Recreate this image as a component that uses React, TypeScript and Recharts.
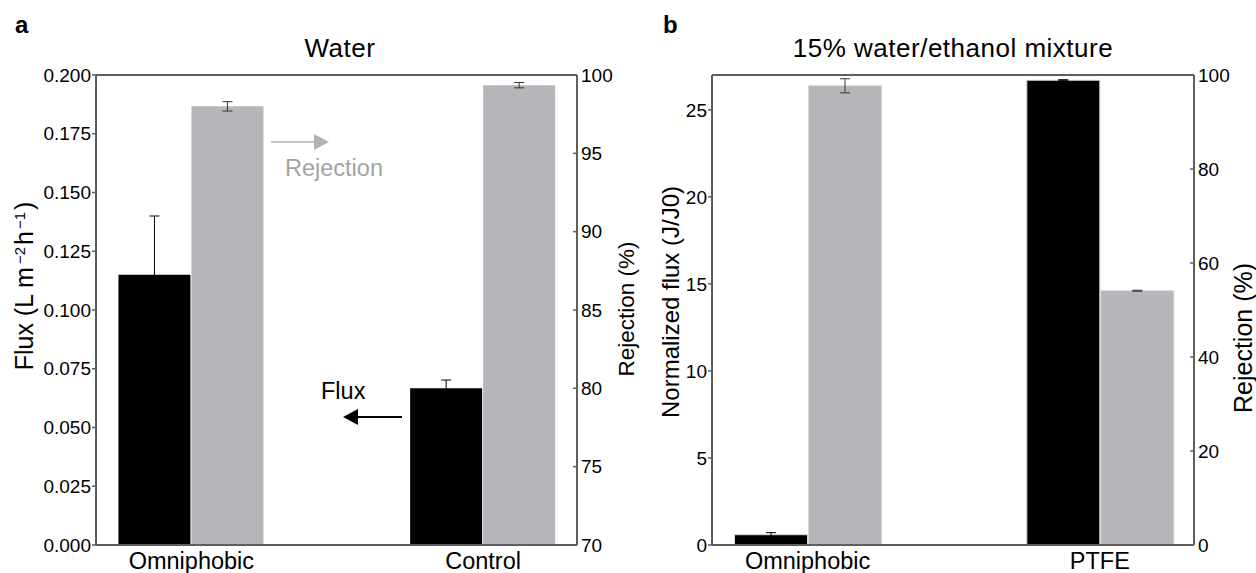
import { ComposedChart, Bar, ErrorBar, XAxis, YAxis, ReferenceLine } from 'recharts'

const FONT = '"Liberation Sans", Arial, Helvetica, sans-serif'
const AXIS = '#5e5e5e'
const GREY = '#b5b6b9'

// x positions of the two sample groups (numeric axis, labels come from the names)
const groupPos = [1, 2]

// panel a: water
const waterNames = ['Omniphobic', 'Control']
const waterFlux = [0.115, 0.0667]
const waterFluxErr = [0.025, 0.0035]
const waterRej = [98.0, 99.35]
const waterRejErr = [0.3, 0.17]
const waterFluxTicks = [0, 0.025, 0.05, 0.075, 0.1, 0.125, 0.15, 0.175, 0.2]
const waterRejTicks = [70, 75, 80, 85, 90, 95, 100]

// panel b: 15% water/ethanol mixture
const mixNames = ['Omniphobic', 'PTFE']
const mixFlux = [0.59, 26.7]
const mixFluxErr = [0.12, 0.03]
const mixRej = [97.7, 54.1]
const mixRejErr = [1.5, 0.1]
const mixFluxTicks = [0, 5, 10, 15, 20, 25]
const mixRejTicks = [0, 20, 40, 60, 80, 100]

function RightTick(props: any) {
  const { x, y, payload } = props
  const axisX = x - 4
  return (
    <g>
      <line x1={axisX} x2={axisX - 4} y1={y} y2={y} stroke={AXIS} strokeWidth={1.5} />
      <text x={x} y={y} dy="0.355em" fontSize={19} fill="#000" fontFamily={FONT}>
        {payload.value}
      </text>
    </g>
  )
}

interface PanelProps {
  names: string[]
  flux: number[]
  fluxErr: number[]
  rej: number[]
  rejErr: number[]
  fluxMax: number
  fluxTicks: number[]
  fluxFmt: (v: number) => string
  rejMin: number
  rejTicks: number[]
  width: number
  leftW: number
  rightW: number
  barStroke?: string
}

function Panel(p: PanelProps) {
  const data = p.names.map((n, i) => ({
    pos: groupPos[i],
    name: n,
    flux: p.flux[i],
    fluxErr: p.fluxErr[i],
    rej: p.rej[i],
    rejErr: p.rejErr[i],
  }))

  return (
    <ComposedChart
      width={p.width}
      height={573}
      data={data}
      margin={{ top: 75, right: 0, bottom: 0, left: 0 }}
      barCategoryGap="25%"
      barGap={1}
    >
      <XAxis
        type="number"
        dataKey="pos"
        domain={[0.673, 2.322]}
        allowDataOverflow
        ticks={groupPos}
        interval={0}
        tickFormatter={(v) => p.names[groupPos.indexOf(v)] ?? ''}
        tickLine={false}
        tickSize={0}
        tickMargin={7}
        height={28}
        axisLine={{ stroke: AXIS, strokeWidth: 2 }}
        tick={{ fontSize: 23.5, fill: '#000', fontFamily: FONT }}
      />
      <YAxis
        yAxisId="flux"
        width={p.leftW}
        domain={[0, p.fluxMax]}
        allowDataOverflow
        ticks={p.fluxTicks}
        interval={0}
        tickFormatter={p.fluxFmt}
        tickSize={4}
        tickMargin={1}
        tickLine={{ stroke: AXIS, strokeWidth: 1.5 }}
        axisLine={{ stroke: AXIS, strokeWidth: 2 }}
        tick={{ fontSize: 19, fill: '#000', fontFamily: FONT }}
      />
      <YAxis
        yAxisId="rej"
        orientation="right"
        width={p.rightW}
        domain={[p.rejMin, 100]}
        allowDataOverflow
        ticks={p.rejTicks}
        interval={0}
        tickSize={0}
        tickMargin={4}
        tickLine={false}
        axisLine={{ stroke: AXIS, strokeWidth: 2 }}
        tick={<RightTick />}
      />
      <ReferenceLine yAxisId="flux" y={p.fluxMax} stroke={AXIS} strokeWidth={2} />
      <Bar
        yAxisId="flux"
        dataKey="flux"
        fill="#000"
        stroke={p.barStroke ?? 'none'}
        strokeWidth={1}
        isAnimationActive={false}
      >
        <ErrorBar dataKey="fluxErr" width={5} stroke="#000" strokeWidth={1} />
      </Bar>
      <Bar
        yAxisId="rej"
        dataKey="rej"
        fill={GREY}
        stroke={p.barStroke ?? 'none'}
        strokeWidth={1}
        isAnimationActive={false}
      >
        <ErrorBar dataKey="rejErr" width={5} stroke="#333" strokeWidth={1} />
      </Bar>
    </ComposedChart>
  )
}

export default function App() {
  return (
    <div
      style={{
        position: 'absolute',
        left: 0,
        top: 0,
        width: 1256,
        height: 573,
        background: '#fff',
        fontFamily: FONT,
      }}
    >
      <div style={{ position: 'absolute', left: 0, top: 0 }}>
        <Panel
          names={waterNames}
          flux={waterFlux}
          fluxErr={waterFluxErr}
          rej={waterRej}
          rejErr={waterRejErr}
          fluxMax={0.2}
          fluxTicks={waterFluxTicks}
          fluxFmt={(v) => v.toFixed(3)}
          rejMin={70}
          rejTicks={waterRejTicks}
          width={640}
          leftW={96}
          rightW={63}
        />
      </div>
      <div style={{ position: 'absolute', left: 640, top: 0 }}>
        <Panel
          names={mixNames}
          flux={mixFlux}
          fluxErr={mixFluxErr}
          rej={mixRej}
          rejErr={mixRejErr}
          fluxMax={27}
          fluxTicks={mixFluxTicks}
          fluxFmt={(v) => String(v)}
          rejMin={0}
          rejTicks={mixRejTicks}
          width={616}
          leftW={72}
          rightW={62}
          barStroke="#d6d6d6"
        />
      </div>

      {/* titles, axis labels and the flux / rejection hints */}
      <svg
        width={1256}
        height={573}
        style={{ position: 'absolute', left: 0, top: 0, pointerEvents: 'none' }}
        fontFamily={FONT}
      >
        <text x={15} y={33} fontSize={24} fontWeight="bold">a</text>
        <text x={663} y={33} fontSize={24} fontWeight="bold">b</text>
        <text x={340} y={57} fontSize={26} letterSpacing={0.5} textAnchor="middle">Water</text>
        <text x={953} y={57} fontSize={26} letterSpacing={0.5} textAnchor="middle">
          15% water/ethanol mixture
        </text>

        <text transform="translate(33,286) rotate(-90)" fontSize={25} textAnchor="middle">
          Flux (L m
          <tspan dx={3} dy={-8} fontSize={15}>−2</tspan>
          <tspan dx={2} dy={8}>h</tspan>
          <tspan dx={2} dy={-8} fontSize={15}>−1</tspan>
          <tspan dx={2} dy={8}>)</tspan>
        </text>
        <text transform="translate(634,309) rotate(-90)" fontSize={22.5} textAnchor="middle">
          Rejection (%)
        </text>
        <text transform="translate(679,302) rotate(-90)" fontSize={24} textAnchor="middle">
          Normalized flux (J/J0)
        </text>
        <text transform="translate(1252,338) rotate(-90)" fontSize={25} textAnchor="middle">
          Rejection (%)
        </text>

        <line x1={271} y1={142} x2={316} y2={142} stroke="#b3b3b3" strokeWidth={1.5} />
        <polygon points="314,134 329,142 314,150" fill="#b3b3b3" />
        <text x={285} y={176} fontSize={23.5} fill="#a3a3a3">Rejection</text>

        <text x={321} y={399} fontSize={23.5} fill="#000">Flux</text>
        <line x1={356} y1={417} x2={402} y2={417} stroke="#000" strokeWidth={2} />
        <polygon points="358,409 343,417 358,425" fill="#000" />
      </svg>
    </div>
  )
}
